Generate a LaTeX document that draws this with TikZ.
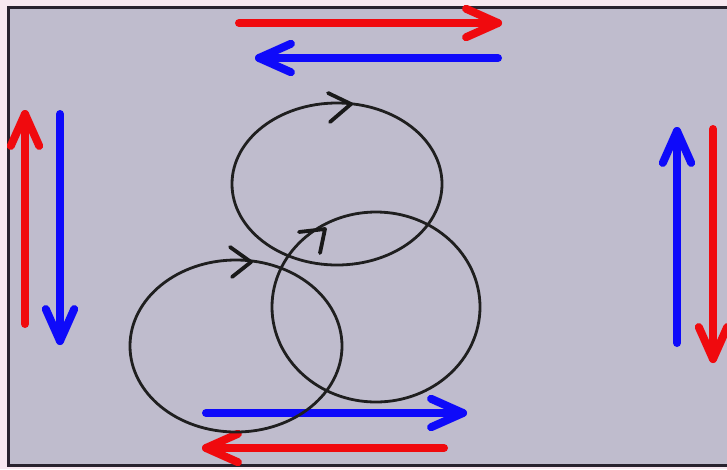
\documentclass[tikz,border=0pt]{standalone}
\usetikzlibrary{calc,shapes.geometric}
\definecolor{outerbg}{RGB}{247,232,240}
\definecolor{panel}{RGB}{191,188,205}
\definecolor{frame}{RGB}{40,34,46}
\definecolor{arrred}{RGB}{240,10,14}
\definecolor{arrblue}{RGB}{14,10,250}
\tikzset{
  bigarr/.style={line width=8pt,line cap=round,line join=round},
  loop/.style={draw=black!88,line width=2.8pt,ellipse,inner sep=0pt,fill=none},
  chev/.style={draw=black!90,line width=3.8pt,line cap=round,line join=round}
}
\newcommand{\bigarrow}[3]{%
  \draw[bigarr,#1] (#2) -- (#3);
  \draw[bigarr,#1] ($(#3)!35pt!24:(#2)$) -- (#3) -- ($(#3)!35pt!-24:(#2)$);}
\begin{document}
\begin{tikzpicture}[x=1pt,y=-1pt]
\useasboundingbox (0,0) rectangle (727,469);
\clip (0,0) rectangle (727,469);
\fill[outerbg] (0,0) rectangle (727,469);
\draw[fill=panel,draw=frame,line width=3pt] (8,7) rectangle (745,465);
% coordinates
\coordinate (trA) at (239,23);  \coordinate (trB) at (498,23);
\coordinate (tbA) at (498,58);  \coordinate (tbB) at (259,58);
\coordinate (lrA) at (25,324);  \coordinate (lrB) at (25,114);
\coordinate (lbA) at (60,114);  \coordinate (lbB) at (60,341);
\coordinate (rbA) at (677,343); \coordinate (rbB) at (677,131);
\coordinate (rrA) at (713,129); \coordinate (rrB) at (713,359);
\coordinate (bbA) at (206,413); \coordinate (bbB) at (463,413);
\coordinate (brA) at (444,448); \coordinate (brB) at (206,448);
\bigarrow{arrred}{trA}{trB}
\bigarrow{arrblue}{tbA}{tbB}
\bigarrow{arrred}{lrA}{lrB}
\bigarrow{arrblue}{lbA}{lbB}
\bigarrow{arrblue}{rbA}{rbB}
\bigarrow{arrred}{rrA}{rrB}
\bigarrow{arrblue}{bbA}{bbB}
\bigarrow{arrred}{brA}{brB}
% loops
\node[loop,minimum width=210pt,minimum height=162pt] (c1) at (337,184) {};
\node[loop,minimum width=212pt,minimum height=172pt] (c2) at (236,346) {};
\node[loop,minimum width=208pt,minimum height=190pt] (c3) at (376,307) {};
% loop arrowheads
\coordinate (h1) at (351,104); \coordinate (h1a) at (328,93);  \coordinate (h1b) at (330,122);
\coordinate (h2) at (251,262); \coordinate (h2a) at (230,247); \coordinate (h2b) at (232,277);
\coordinate (h3) at (325,229); \coordinate (h3a) at (299,232); \coordinate (h3b) at (320,253);
\draw[chev] (h1a) -- (h1) -- (h1b);
\draw[chev] (h2a) -- (h2) -- (h2b);
\draw[chev] (h3a) -- (h3) -- (h3b);
\end{tikzpicture}
\end{document}
